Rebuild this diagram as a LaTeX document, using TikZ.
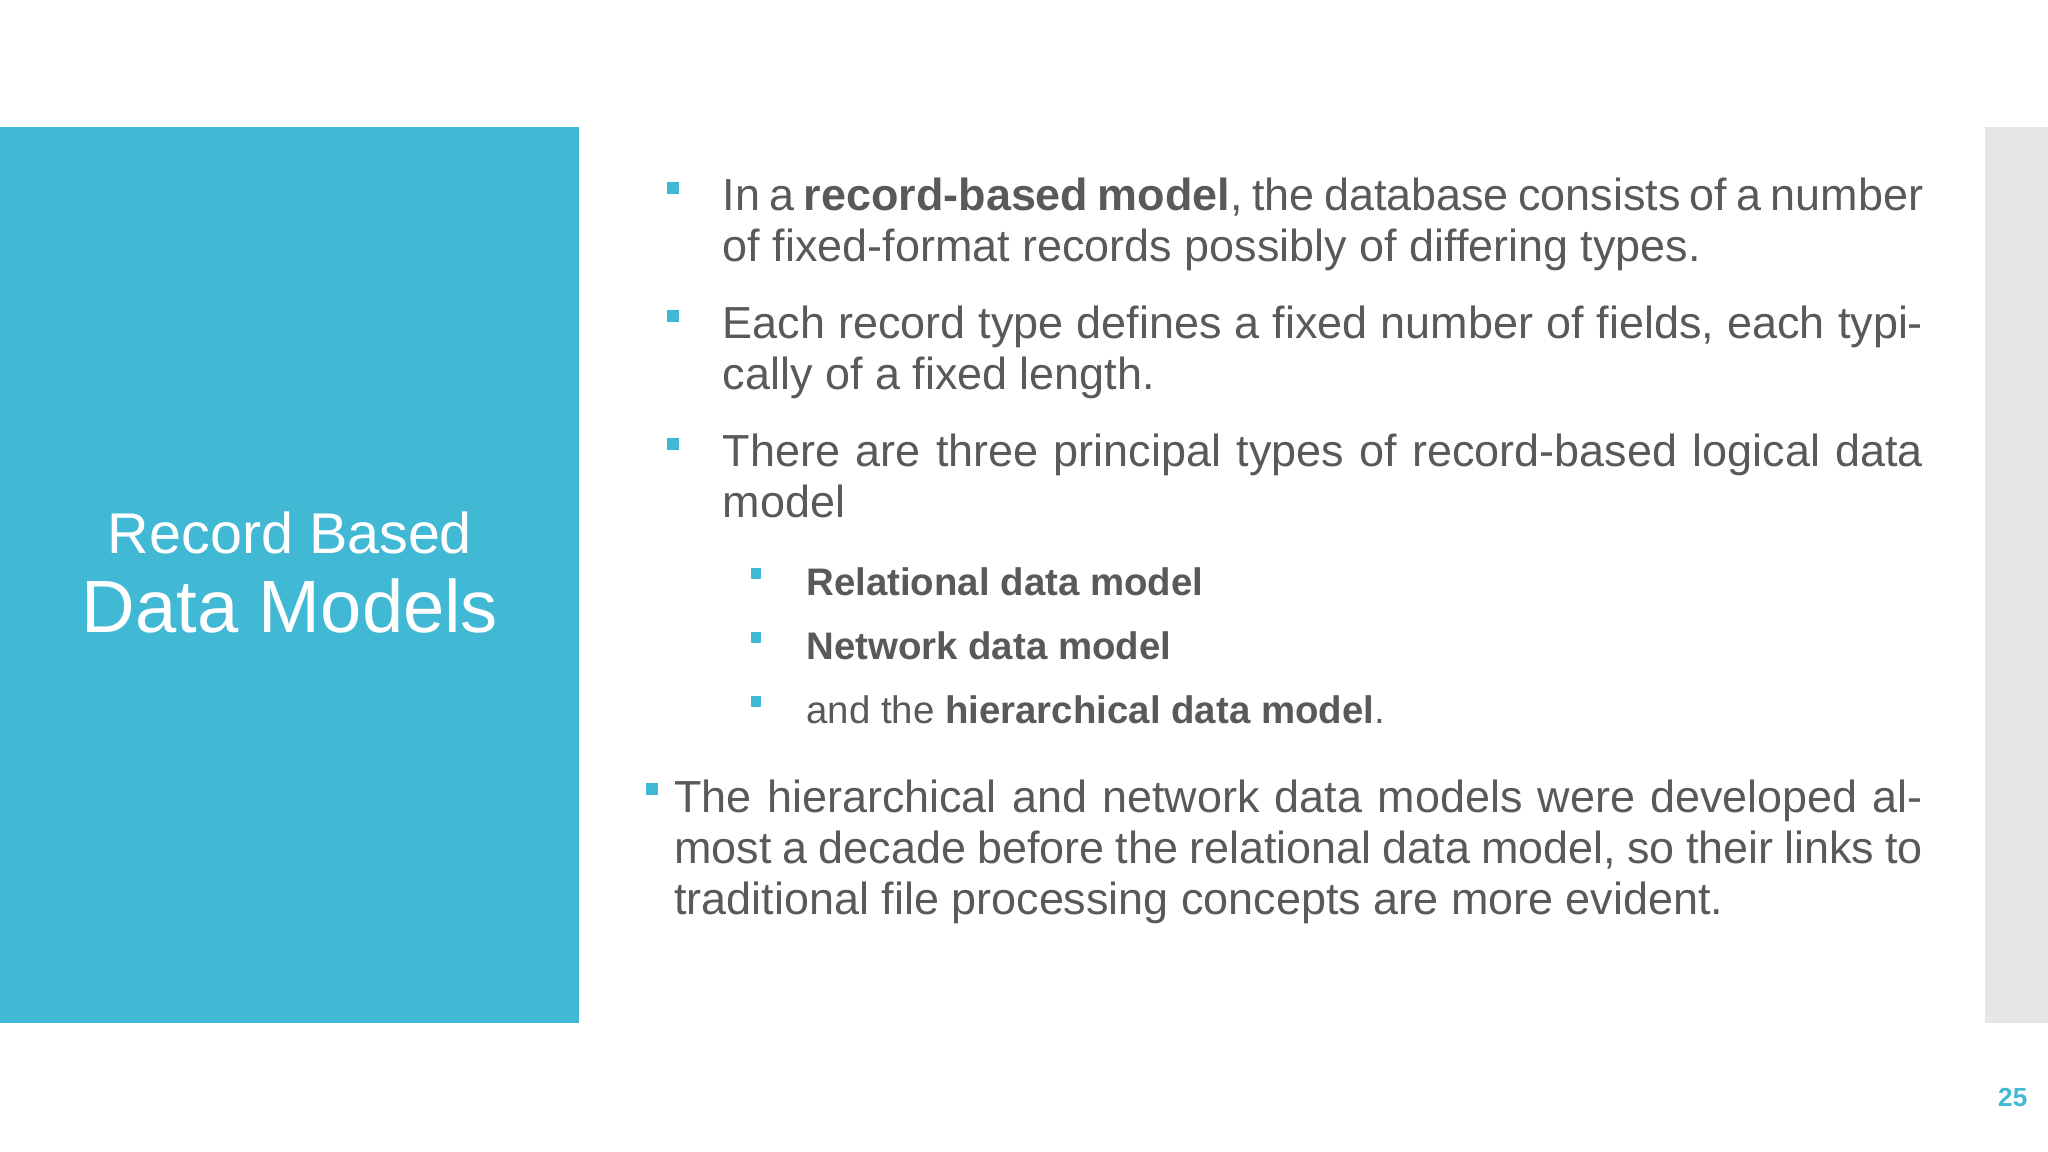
\documentclass[tikz,border=0pt]{standalone}
\usepackage{fontspec}
\setmainfont{Liberation Sans}
\definecolor{teal}{HTML}{41B9D4}
\definecolor{txt}{HTML}{595959}
\definecolor{side}{HTML}{E6E6E6}
\begin{document}
\begin{tikzpicture}[x=0.5pt,y=-0.5pt,
  body/.style={anchor=north west,inner sep=0pt,text=txt,font=\fontsize{17.2}{19.5}\selectfont,align=justify},
  sub/.style={anchor=north west,inner sep=0pt,text=txt,font=\fontsize{14.7}{19}\selectfont},
  bul/.style={fill=teal,draw=none,minimum size=4.5pt,inner sep=0pt}]
\useasboundingbox (0,0) rectangle (1568,882);
\fill[teal] (0,97) rectangle (443,783);
\fill[side] (1520,97) rectangle (1568,783);
\node[text=white,font=\fontsize{22}{26}\selectfont] (t1) at (222,408) {Record Based};
\node[text=white,font=\fontsize{28.4}{34}\selectfont] (t2) at (222,464) {Data Models};
\node[bul] (b1) at (515,144) {};
\node[body,text width=459.5pt] (p1) at (553,136) {In a \textbf{record-based model}, the database consists of a number of fixed-format records possibly of differing types.\par};
\node[bul] (b2) at (515,242) {};
\node[body,text width=459.5pt] (p2) at (553,234) {Each record type defines a fixed number of fields, each typically of a fixed length.\par};
\node[bul] (b3) at (515,340) {};
\node[body,text width=459.5pt] (p3) at (553,332) {There are three principal types of record-based logical data model\par};
\node[bul,minimum size=4pt] (s1) at (579,439) {};
\node[sub] (q1) at (617,434) {\textbf{Relational data model}};
\node[bul,minimum size=4pt] (s2) at (579,488) {};
\node[sub] (q2) at (617,483) {\textbf{Network data model}};
\node[bul,minimum size=4pt] (s3) at (579,537) {};
\node[sub] (q3) at (617,532) {and the \textbf{hierarchical data model}.};
\node[bul] (b4) at (499,604) {};
\node[body,text width=478pt] (p4) at (516,597) {The hierarchical and network data models were developed almost a decade before the relational data model, so their links to traditional file processing concepts are more evident.\par};
\node[text=teal,font=\fontsize{10}{12}\selectfont\bfseries] (pg) at (1541,840) {25};
\end{tikzpicture}
\end{document}
